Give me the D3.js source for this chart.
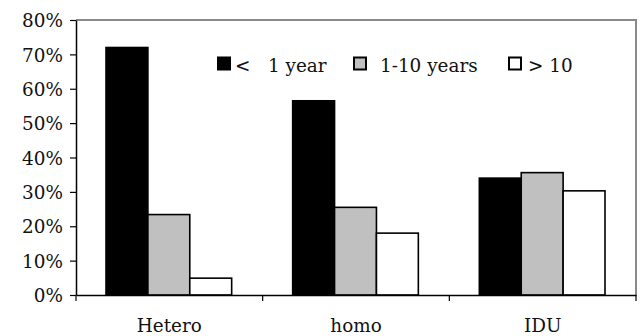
<!DOCTYPE html>
<html><head><meta charset="utf-8">
<script src="https://cdn.jsdelivr.net/npm/d3@7"></script>
<style>html,body{margin:0;padding:0;background:#fff}svg{display:block}</style>
</head><body>
<script>
const categories = ["Hetero", "homo", "IDU"];
const seriesNames = ["< 1 year", "1-10 years", "> 10"];
const lessThan1 = [72, 56.5, 34];
const oneToTen = [23.4, 25.5, 35.6];
const moreThan10 = [4.9, 18, 30.3];
const yTicks = [0, 10, 20, 30, 40, 50, 60, 70, 80];
const series = [lessThan1, oneToTen, moreThan10];
const fills = ["#000000", "#c0c0c0", "#ffffff"];

const W = 642, H = 336;
const m = {left: 76, right: 6, top: 20, bottom: 41};
const svg = d3.select("body").append("svg").attr("width", W).attr("height", H);
const x = d3.scaleBand().domain(categories).range([m.left, W - m.right]);
const y = d3.scaleLinear().domain([0, 80]).range([H - m.bottom, m.top]);
const inner = d3.scaleBand().domain(d3.range(3)).range([30, x.bandwidth() - 31]);
const font = "DejaVu Serif";
const fs = 18.4;

// plot border (top/right gray)
svg.append("path")
  .attr("d", `M${m.left},${m.top}H${W - m.right}V${H - m.bottom}`)
  .attr("fill", "none").attr("stroke", "#8a8a8a").attr("stroke-width", 2);

// bars
categories.forEach((c, i) => {
  series.forEach((s, j) => {
    svg.append("rect")
      .attr("x", x(c) + inner(j))
      .attr("y", y(s[i]))
      .attr("width", inner.bandwidth())
      .attr("height", y(0) - y(s[i]))
      .attr("fill", fills[j]).attr("stroke", "#000").attr("stroke-width", 1.6);
  });
});

// y axis
const ya = svg.append("g").attr("transform", `translate(${m.left},0)`)
  .call(d3.axisLeft(y).tickValues(yTicks).tickFormat(d => d + "%").tickSize(6).tickSizeOuter(0));
ya.select(".domain").attr("stroke", "#000").attr("stroke-width", 1.5);
ya.selectAll(".tick line").attr("stroke", "#000").attr("stroke-width", 1.2);
ya.selectAll("text").attr("font-family", font).attr("font-size", fs).attr("fill", "#111").attr("x", -13).attr("dy", "0.36em");

// x axis
const xa = svg.append("g").attr("transform", `translate(0,${H - m.bottom})`)
  .call(d3.axisBottom(x).tickSize(0).tickSizeOuter(0));
xa.select(".domain").attr("stroke", "#000").attr("stroke-width", 1.5);
xa.selectAll("text").attr("font-family", font).attr("font-size", fs).attr("fill", "#111").attr("dy", 0).attr("y", 36.5);
const bounds = categories.map(c => x(c)).concat([x(categories[2]) + x.bandwidth()]);
xa.selectAll(".sep").data(bounds).enter().append("line")
  .attr("x1", d => d).attr("x2", d => d).attr("y1", 0).attr("y2", 6)
  .attr("stroke", "#000").attr("stroke-width", 1.2);

// legend
const legend = [
  {sx: 218, tx: 235},
  {sx: 354, tx: 380},
  {sx: 509, tx: 528}
];
legend.forEach((l, j) => {
  svg.append("rect").attr("x", l.sx).attr("y", 57.5).attr("width", 12).attr("height", 12)
    .attr("fill", fills[j]).attr("stroke", "#000").attr("stroke-width", 2);
});
const t0 = svg.append("text").attr("x", 235).attr("y", 71.5).attr("font-family", font).attr("font-size", fs).attr("fill", "#111");
t0.append("tspan").text("<");
t0.append("tspan").attr("x", 268).text("1 year");
svg.append("text").attr("x", 380).attr("y", 71.5).attr("font-family", font).attr("font-size", fs).attr("fill", "#111").text(seriesNames[1]);
svg.append("text").attr("x", 528).attr("y", 71.5).attr("font-family", font).attr("font-size", fs).attr("fill", "#111").text(seriesNames[2]);
</script>
</body></html>
